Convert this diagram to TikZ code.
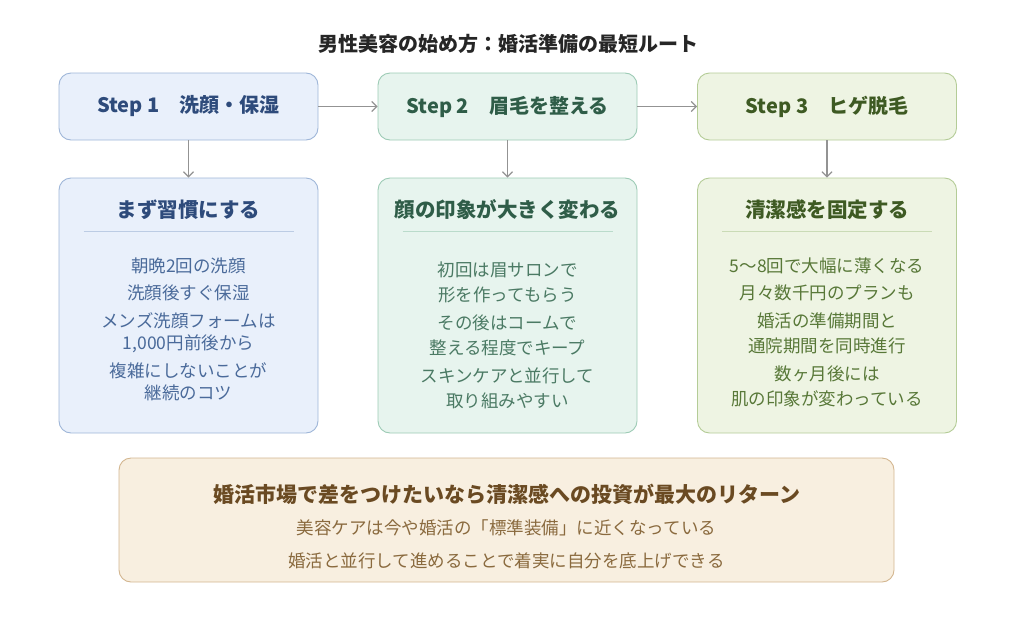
\documentclass[tikz,border=0pt]{standalone}
\usepackage{fontspec}
\setmainfont{Noto Sans CJK JP}
\usetikzlibrary{arrows.meta}
\definecolor{bF}{HTML}{E9F0FB}\definecolor{bD}{HTML}{9FB6D8}\definecolor{bT}{HTML}{2E4B7B}\definecolor{bL}{HTML}{4A6A9A}
\definecolor{gF}{HTML}{E7F4EE}\definecolor{gD}{HTML}{9DCBB5}\definecolor{gT}{HTML}{2F5D48}\definecolor{gL}{HTML}{4B7A64}
\definecolor{oF}{HTML}{EEF4E3}\definecolor{oD}{HTML}{B4CC97}\definecolor{oT}{HTML}{3E5A23}\definecolor{oL}{HTML}{587838}
\definecolor{yF}{HTML}{F8EFE0}\definecolor{yD}{HTML}{D3B690}\definecolor{yT}{HTML}{6A4A22}\definecolor{yL}{HTML}{8A6A3E}
\tikzset{x=1pt,y=-1pt,
 box/.style={draw,rounded corners=12pt,line width=0.9pt,inner sep=0pt},
 arr/.style={draw=gray!85,line width=1.2pt,-{Straight Barb[length=5pt,width=10pt]}},
 hd/.style={font=\fontsize{20}{24}\selectfont\bfseries},
 bd/.style={font=\fontsize{17.5}{27}\selectfont,align=center}}
\begin{document}
\begin{tikzpicture}
\useasboundingbox (0,0) rectangle (1024,624);
\node[font=\fontsize{20}{24}\selectfont\bfseries,text=black!85] (t) at (508,44) {男性美容の始め方：婚活準備の最短ルート};
\foreach \c/\x/\F/\D/\T/\L/\s/\h in {1/188.5/bF/bD/bT/bL/{Step 1\quad 洗顔・保湿}/{まず習慣にする},2/507.5/gF/gD/gT/gL/{Step 2\quad 眉毛を整える}/{顔の印象が大きく変わる},3/827/oF/oD/oT/oL/{Step 3\quad ヒゲ脱毛}/{清潔感を固定する}}{
 \node[box,fill=\F,draw=\D,minimum width=259pt,minimum height=67pt] (s\c) at (\x,106.5) {};
 \node[hd,text=\T] at (\x,106.5) {\s};
 \node[box,fill=\F,draw=\D,minimum width=259pt,minimum height=255pt] (d\c) at (\x,305.5) {};
 \node[hd,font=\fontsize{20.5}{24}\selectfont\bfseries,text=\T] (h\c) at (\x,210) {\h};
 \draw[\D!70,line width=0.8pt] (\x-105,231) -- (\x+105,231);
 \draw[arr] (s\c) -- (d\c);
}
\node[bd,text=bL] at (188.5,329) {朝晩2回の洗顔\\洗顔後すぐ保湿\\[1pt]メンズ洗顔フォームは\\[-5pt]1,000円前後から\\[1pt]複雑にしないことが\\[-5pt]継続のコツ};
\node[bd,text=gL] at (507.5,335) {初回は眉サロンで\\[-2pt]形を作ってもらう\\[1pt]その後はコームで\\[-2pt]整える程度でキープ\\[1pt]スキンケアと並行して\\[-2pt]取り組みやすい};
\node[bd,text=oL] at (827,332) {5〜8回で大幅に薄くなる\\月々数千円のプランも\\[1pt]婚活の準備期間と\\[-2pt]通院期間を同時進行\\[1pt]数ヶ月後には\\[-2pt]肌の印象が変わっている};
\draw[arr] (s1) -- (s2);
\draw[arr] (s2) -- (s3);
\node[box,fill=yF,draw=yD,minimum width=775pt,minimum height=124pt] (b) at (506.5,520) {};
\node[hd,font=\fontsize{21}{24}\selectfont\bfseries,text=yT] at (506.5,494) {婚活市場で差をつけたいなら清潔感への投資が最大のリターン};
\node[bd,text=yL] at (506.5,528) {美容ケアは今や婚活の「標準装備」に近くなっている};
\node[bd,text=yL] at (506.5,561) {婚活と並行して進めることで着実に自分を底上げできる};
\end{tikzpicture}
\end{document}
